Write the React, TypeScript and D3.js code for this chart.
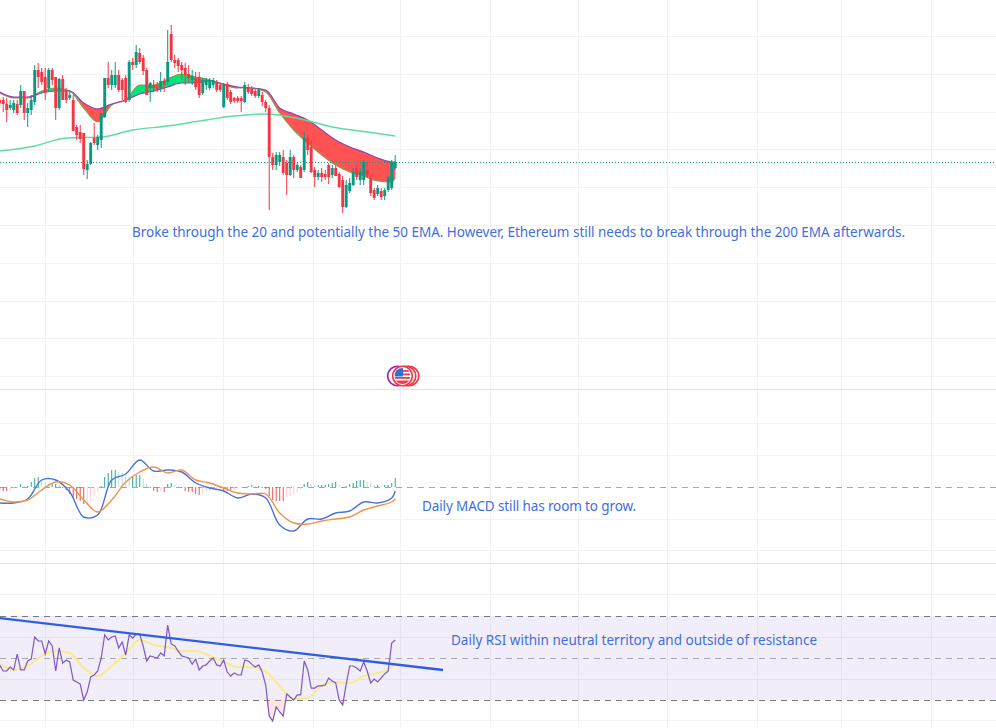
import React from "react";
import * as d3 from "d3";

type OHLC = [number, number, number, number];

// Daily candles: open, high, low, close (chart price units)
const candles: OHLC[] = [
  [900,902,892,897],[900,903,888,896],[896,902,878,890],[892,900,890,895],[890,900,887,897],[896,900,885,887],
  [895,915,892,909],[909,909,880,887],[887,897,873,892],[890,905,885,900],[898,935,895,930],[930,937,912,923],
  [928,932,915,918],[923,932,900,907],[912,932,908,930],[930,932,915,920],[923,923,880,892],[892,922,890,921],
  [921,925,900,900],[910,912,897,900],[902,910,900,905],[900,905,869,869],[873,875,860,865],[868,875,857,861],
  [867,867,825,831],[830,840,821,836],[836,858,835,857],[862,877,855,857],[855,865,850,863],[860,887,852,887],
  [883,922,882,922],[922,938,912,915],[915,930,910,925],[915,938,912,925],[925,930,908,910],[920,922,900,910],
  [922,925,897,898],[900,940,898,938],[938,942,930,935],[935,955,932,948],[947,952,936,938],[942,945,925,929],
  [930,932,905,905],[912,918,898,917],[915,920,908,912],[915,918,908,911],[912,928,908,919],[919,922,908,915],
  [918,970,915,938],[966,975,938,940],[940,945,932,937],[940,942,928,934],[935,938,920,930],[932,937,915,925],
  [926,935,918,922],[920,930,915,924],[922,928,910,913],[923,928,902,905],[907,922,905,920],[915,922,910,920],
  [912,922,910,920],[915,922,912,920],[918,920,908,910],[915,917,908,910],[893,917,892,915],[916,918,900,902],
  [908,910,896,898],[902,903,897,899],[902,904,897,899],[902,904,888,899],[898,918,897,915],[913,916,906,908],
  [911,914,904,906],[909,912,902,904],[904,912,902,910],[905,908,894,898],[898,900,888,892],[892,895,790,843],
  [843,847,830,835],[835,848,830,845],[838,848,834,845],[843,850,825,827],[837,840,805,825],[825,850,824,843],
  [843,845,822,830],[830,837,828,835],[833,835,822,822],[830,868,828,862],[862,865,845,850],[853,860,827,828],
  [830,833,813,823],[823,830,820,827],[827,832,818,823],[826,830,820,823],[835,837,816,823],[825,835,822,832],
  [832,835,824,824],[826,828,812,813],[820,824,787,793],[793,820,792,815],[809,822,807,817],[815,832,814,828],
  [832,835,820,823],[820,832,815,828],[820,840,815,838],[830,838,822,825],[822,825,804,807],[810,812,800,802],
  [806,815,804,812],[809,812,800,803],[804,812,800,810],[810,824,808,823],[812,840,810,838],[832,845,830,838],
];

// Indicator series sampled every four bars, plus the last bar
const sampleBars = [0,4,8,12,16,20,24,28,32,36,40,44,48,52,56,60,64,68,72,76,80,84,88,92,96,100,104,108,112,113];
const ema20 = [907,902,902,909,912,909,892,878,895,900,915,915,921,926,923,920,915,912,912,908,887,870,857,845,835,828,824,819,818,822];
const ema50 = [908,903,903,907,909,909,897,891,896,900,906,909,913,917,917,919,916,913,912,910,892,886,880,870,860,853,848,842,838,838];
const ema200Bars = [0,10,19,29,38,48,57,67,76,86,95,105,113];
const ema200 = [849,854,862,863,870,874,879,884,886,881,873,868,864];
const lastPrice = 838;

const macdLine = [-16,-16,-12,7,7,-5,-30,-28,7,13,27,16,17,15,4,-1,-4,-11,-7,-11,-38,-44,-32,-32,-26,-24,-15,-16,-11,-4];
const signalLine = [-12,-15,-13,-3,5,2,-13,-25,-13,5,15,20,14,17,7,4,-1,-6,-7,-7,-26,-36,-37,-34,-32,-30,-23,-19,-15,-12];
const macdHist = [
  -3,-4,-4,-3,-2,-1,3,1,1,5,9,10,8,5,3,3,3,2,-1,-3,-7,-10,-12,-14,-17,-16,-14,-9,-5,1,10,14,17,17,15,14,12,10,10,12,
  12,8,3,-1,-4,-5,-4,-5,3,4,2,1,-1,-4,-5,-5,-7,-8,-7,-5,-4,-3,-1,-1,-4,-4,-4,-3,-2,-1,-1,1,2,1,1,-1,-2,-9,-13,-14,
  -14,-14,-10,-9,-7,-5,-3,3,5,3,2,2,2,2,3,4,5,2,-1,1,3,4,6,7,7,5,4,2,2,1,2,2,4,9,
];

const rsi = [
  46.7,43.8,43.8,45.7,44.3,51.9,44.3,44.3,48.6,49.5,60,58.1,58.1,51.9,58.1,55.7,43.8,54.8,47.6,49,
  48.1,39.5,38.6,37.6,30,33.8,41,41.9,43.8,50,61,58.6,60,60.5,54.8,57.6,51.4,61,59.5,61.4,
  61.4,55.7,48.6,51,50.5,50,52.4,51,65.7,56.7,55.7,53.3,51,50.5,50,47.1,49.5,44.3,46.2,46.7,
  48.6,50,46.7,46.2,49,43.3,41.4,42.9,41.9,41.9,49,48.6,47.1,45.7,46.7,43.3,37.1,22.4,20,26.7,
  24.3,22.4,32.9,31.4,30,32.4,32.4,48.6,44.3,35.7,35.7,36.7,36.7,37.1,40.5,39,38.1,30,27.6,37.6,
  46.2,46.2,45.2,43.8,48.1,43.8,38.1,40,38.6,40.5,42.4,43.8,57.1,58.6,
];
const rsiMa = [46.7,44.3,46.2,51,53.3,52.4,45.2,41.4,46.2,52.4,58.6,56.2,55.2,53.3,53.3,51,48.1,45.7,45.7,43.8,36.7,30.5,31,36.7,38.6,38.1,41.4,42.9,45.7,47.6];
const rsiLevels = [70, 50, 30];
const trendBars = [0, 126.66];
const trendRsi = [69, 44.3];

const gridX = [45,133,223,313,400,490,578,667,757,841,931];
const gridY = [36,74,112,149,187,225,263,301,338,376,423,455,519,550,594,637,679,720];
const separators = [389.5, 563.5];

const notes = [
  { text: "Broke through the 20 and potentially the 50 EMA. However, Ethereum still needs to break through the 200 EMA afterwards.", x: 132, y: 236.5, w: 773 },
  { text: "Daily MACD still has room to grow.", x: 422, y: 511, w: 214 },
  { text: "Daily RSI within neutral territory and outside of resistance", x: 451, y: 645, w: 366 },
];

const W = 996, H = 728;
const UP = "#089981", DOWN = "#f23645";

const x = d3.scaleLinear().domain([0, 113]).range([-0.3, 395.2]);
const yPrice = d3.scaleLinear().domain([272, 1000]).range([728, 0]);
const yMacd = d3.scaleLinear().domain([-100, 100]).range([587, 387]);
const yRsi = d3.scaleLinear().domain([30, 70]).range([700, 616]);

const sampled = (bars: number[], vals: number[]) => bars.map((b, i) => [b, vals[i]] as [number, number]);

const priceLine = d3.line<[number, number]>().x(d => x(d[0])).y(d => yPrice(d[1])).curve(d3.curveMonotoneX);
const macdPath = d3.line<[number, number]>().x(d => x(d[0])).y(d => yMacd(d[1])).curve(d3.curveCatmullRom.alpha(0.5));
const rsiPath = d3.line<[number, number]>().x(d => x(d[0])).y(d => yRsi(d[1]));
const rsiSmooth = d3.line<[number, number]>().x(d => x(d[0])).y(d => yRsi(d[1])).curve(d3.curveMonotoneX);

const bandIdx = d3.range(sampleBars.length);
const bullBand = d3.area<number>()
  .x(i => x(sampleBars[i]))
  .y0(i => yPrice(ema50[i]))
  .y1(i => yPrice(Math.max(ema20[i], ema50[i])))
  .curve(d3.curveMonotoneX);
const bearBand = d3.area<number>()
  .x(i => x(sampleBars[i]))
  .y0(i => yPrice(ema50[i]))
  .y1(i => yPrice(Math.min(ema20[i], ema50[i])))
  .curve(d3.curveMonotoneX);

const rsiSeries = rsi.map((v, i) => [i, v] as [number, number]);
const oversold = d3.area<[number, number]>()
  .x(d => x(d[0]))
  .y0(yRsi(30))
  .y1(d => yRsi(Math.min(d[1], 30)));

function histColor(i: number) {
  const v = macdHist[i];
  const prev = i > 0 ? macdHist[i - 1] : v;
  if (v >= 0) return v >= prev ? "#26a69a" : "#b2dfdb";
  return v <= prev ? "#ef5350" : "#ffcdd2";
}

function FlagIcon() {
  const cx = 402.5, cy = 376, r = 8;
  const stripes = [-6, -2.5, 1, 4.5];
  return (
    <g>
      <circle cx={397.5} cy={cy} r={9.8} fill="#fff" stroke="#9c27b0" strokeWidth={1.6} />
      <circle cx={409} cy={cy} r={9.8} fill="#fff" stroke="#f23645" strokeWidth={1.6} />
      <circle cx={406} cy={cy} r={9.8} fill="#fff" stroke="#f23645" strokeWidth={1.6} />
      <circle cx={cx} cy={cy} r={9.8} fill="#fff" stroke="#f23645" strokeWidth={1.6} />
      <clipPath id="flag"><circle cx={cx} cy={cy} r={r} /></clipPath>
      <g clipPath="url(#flag)">
        <rect x={cx - r} y={cy - r} width={2 * r} height={2 * r} fill="#fff" />
        {stripes.map(s => <rect key={s} x={cx - r} y={cy + s} width={2 * r} height={1.8} fill="#e0404f" />)}
        <rect x={cx - r} y={cy + 6} width={2 * r} height={2} fill="#e0404f" />
        <rect x={cx - r} y={cy - r} width={8.5} height={8.5} fill="#2f6fd6" />
      </g>
    </g>
  );
}

export default function App() {
  return (
    <svg width={W} height={H} viewBox={`0 0 ${W} ${H}`} style={{ position: "fixed", left: 0, top: 0, background: "#fff", display: "block" }}>
      {gridY.map(g => <line key={g} x1={0} x2={W} y1={g + 0.5} y2={g + 0.5} stroke="#f1f2f6" />)}
      {gridX.map(g => <line key={g} x1={g + 0.5} x2={g + 0.5} y1={0} y2={H} stroke="#f1f2f6" />)}
      {separators.map(s => <line key={s} x1={0} x2={W} y1={s} y2={s} stroke="#e0e3eb" />)}

      {/* Price pane */}
      <path d={bearBand(bandIdx) ?? ""} fill="#ff5252" />
      <path d={bullBand(bandIdx) ?? ""} fill="#00e676" />
      <path d={priceLine(sampled(sampleBars, ema20)) ?? ""} fill="none" stroke="#8f9a4a" strokeWidth={1.2} />
      <path d={priceLine(sampled(sampleBars, ema50)) ?? ""} fill="none" stroke="#9c3fb0" strokeWidth={1.2} />
      <path d={priceLine(sampled(ema200Bars, ema200)) ?? ""} fill="none" stroke="#5fdca3" strokeWidth={1.5} />
      <line x1={0} x2={W} y1={yPrice(lastPrice) + 0.5} y2={yPrice(lastPrice) + 0.5} stroke={UP} strokeDasharray="1 2" />
      {candles.map(([o, h, l, c], i) => {
        const col = c >= o ? UP : DOWN;
        const top = yPrice(Math.max(o, c));
        const bot = yPrice(Math.min(o, c));
        return (
          <g key={i} fill={col}>
            <rect x={x(i) - 0.5} y={yPrice(h)} width={1} height={yPrice(l) - yPrice(h)} />
            <rect x={x(i) - 1.45} y={top} width={2.9} height={Math.max(1, bot - top)} />
          </g>
        );
      })}
      <FlagIcon />

      {/* MACD pane */}
      <line x1={0} x2={W} y1={yMacd(0) + 0.5} y2={yMacd(0) + 0.5} stroke="#a3a6af" strokeDasharray="6 5" />
      {macdHist.map((v, i) => (
        <rect key={i} x={x(i) - 0.5} width={1} y={Math.min(yMacd(v), yMacd(0))} height={Math.abs(yMacd(v) - yMacd(0))} fill={histColor(i)} />
      ))}
      <path d={macdPath(sampled(sampleBars, macdLine)) ?? ""} fill="none" stroke="#4a72dc" strokeWidth={1.4} />
      <path d={macdPath(sampled(sampleBars, signalLine)) ?? ""} fill="none" stroke="#f0924a" strokeWidth={1.4} />

      {/* RSI pane */}
      <rect x={0} width={W} y={yRsi(70)} height={yRsi(30) - yRsi(70)} fill="#7e57c2" fillOpacity={0.1} />
      {rsiLevels.map(l => (
        <line key={l} x1={0} x2={W} y1={yRsi(l) + 0.5} y2={yRsi(l) + 0.5} stroke={l === 50 ? "#a9a9b4" : "#787b86"} strokeDasharray="6 5" />
      ))}
      <path d={oversold(rsiSeries) ?? ""} fill="#ff9a8a" fillOpacity={0.25} />
      <path d={rsiSmooth(sampled(sampleBars, rsiMa)) ?? ""} fill="none" stroke="#f7ec8a" strokeWidth={2} />
      <path d={rsiPath(rsiSeries) ?? ""} fill="none" stroke="#7e57c2" strokeWidth={1.2} />
      <line x1={x(trendBars[0])} x2={x(trendBars[1])} y1={yRsi(trendRsi[0])} y2={yRsi(trendRsi[1])} stroke="#2f5fe0" strokeWidth={2.4} />

      {notes.map(n => (
        <text key={n.text} x={n.x} y={n.y} fontFamily="'Noto Sans', 'DejaVu Sans', sans-serif" fontSize={13.5} fill="#3f6ee0" textLength={n.w} lengthAdjust="spacing">
          {n.text}
        </text>
      ))}
    </svg>
  );
}
